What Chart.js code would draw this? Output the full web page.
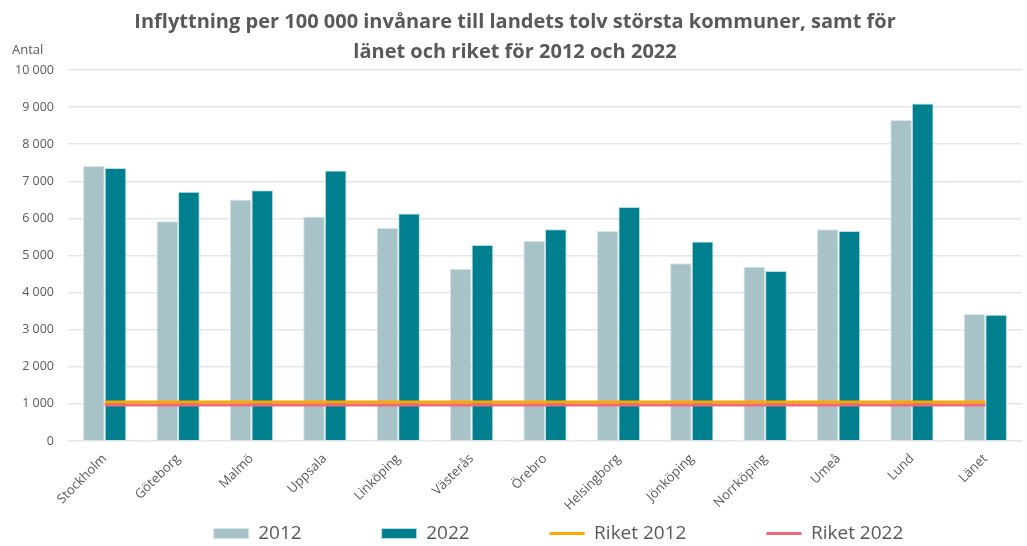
<!DOCTYPE html>
<html>
<head>
<meta charset="utf-8">
<script src="https://cdn.jsdelivr.net/npm/chart.js@4"></script>
<style>
  html, body { margin: 0; padding: 0; background: #fff; }
  #wrap { width: 1027px; height: 546px; position: relative; }
</style>
</head>
<body>
<div id="wrap"><canvas id="myChart"></canvas></div>
<script>
const categories = ['Stockholm', 'Göteborg', 'Malmö', 'Uppsala', 'Linköping', 'Västerås',
  'Örebro', 'Helsingborg', 'Jönköping', 'Norrköping', 'Umeå', 'Lund', 'Länet'];
const values2012 = [7410, 5920, 6510, 6050, 5740, 4640, 5390, 5660, 4790, 4700, 5710, 8650, 3420];
const values2022 = [7360, 6720, 6760, 7290, 6130, 5280, 5710, 6310, 5380, 4580, 5660, 9100, 3400];
const riket2012 = 1050;
const riket2022 = 970;
const yTicks = [0, 1000, 2000, 3000, 4000, 5000, 6000, 7000, 8000, 9000, 10000];

const grey = '#595959';

// small label above the y axis
const antalLabel = {
  id: 'antalLabel',
  afterDraw(chart) {
    const ctx = chart.ctx;
    ctx.save();
    ctx.font = '13px "Open Sans"';
    ctx.fillStyle = grey;
    ctx.textAlign = 'left';
    ctx.textBaseline = 'middle';
    ctx.fillText('Antal', 12, chart.chartArea.top - 20);
    ctx.restore();
  }
};

// legend padding is big for the gaps between items, so pull the box up
// (its top part is empty) and nudge it right like the original
const legendShift = {
  id: 'legendShift',
  afterLayout(chart) {
    const lg = chart.legend;
    lg.top -= lg.options.labels.padding;
    lg.left += 87;
  }
};

new Chart(document.getElementById('myChart'), {
  type: 'bar',
  plugins: [antalLabel, legendShift],
  data: {
    labels: categories,
    datasets: [
      {
        label: '2012',
        data: values2012,
        backgroundColor: '#A8C3C8',
        borderColor: '#D6E6E8',
        borderWidth: 1,
        pointStyle: 'rect',
        categoryPercentage: 0.59,
        barPercentage: 1,
        order: 2
      },
      {
        label: '2022',
        data: values2022,
        backgroundColor: '#00808E',
        borderColor: '#B9DDE0',
        borderWidth: 1,
        pointStyle: 'rect',
        categoryPercentage: 0.59,
        barPercentage: 1,
        order: 2
      },
      {
        type: 'line',
        label: 'Riket 2012',
        data: categories.map(() => riket2012),
        borderColor: '#FFA500',
        backgroundColor: '#FFA500',
        borderWidth: 3,
        pointRadius: 0,
        pointStyle: 'line',
        order: 0
      },
      {
        type: 'line',
        label: 'Riket 2022',
        data: categories.map(() => riket2022),
        borderColor: '#F0677E',
        backgroundColor: '#F0677E',
        borderWidth: 3,
        pointRadius: 0,
        pointStyle: 'line',
        order: 1
      }
    ]
  },
  options: {
    responsive: true,
    maintainAspectRatio: false,
    animation: false,
    layout: { padding: { left: 8, right: 5, top: 7, bottom: 0 } },
    scales: {
      x: {
        grid: { display: false },
        border: { display: false },
        afterFit: axis => { axis.height = 83; },
        ticks: {
          color: grey,
          font: { family: 'Open Sans', size: 13 },
          maxRotation: 45,
          minRotation: 45,
          autoSkip: false,
          padding: 2
        }
      },
      y: {
        min: 0,
        max: 10000,
        afterBuildTicks: axis => { axis.ticks = yTicks.map(v => ({ value: v })); },
        afterFit: axis => { axis.width = 60; },
        grid: { color: '#E6E6E6', lineWidth: 1.5, drawTicks: false },
        border: { display: false },
        ticks: {
          color: grey,
          font: { family: 'Open Sans', size: 12.5 },
          padding: 14,
          callback: v => String(v).replace(/\B(?=(\d{3})+(?!\d))/g, ' ')
        }
      }
    },
    plugins: {
      title: {
        display: true,
        text: ['Inflyttning per 100 000 invånare till landets tolv största kommuner, samt för',
               'länet och riket för 2012 och 2022'],
        color: grey,
        font: { family: 'Open Sans', size: 20, weight: 'bold', lineHeight: 1.5 },
        padding: { top: 0, bottom: 3 }
      },
      legend: {
        position: 'bottom',
        maxHeight: 22,
        labels: {
          color: grey,
          font: { family: 'Open Sans', size: 19 },
          usePointStyle: true,
          pointStyleWidth: 35,
          boxHeight: 10,
          padding: 80,
          sort: (a, b) => a.datasetIndex - b.datasetIndex
        }
      },
      tooltip: { enabled: false }
    }
  }
});
</script>
</body>
</html>
